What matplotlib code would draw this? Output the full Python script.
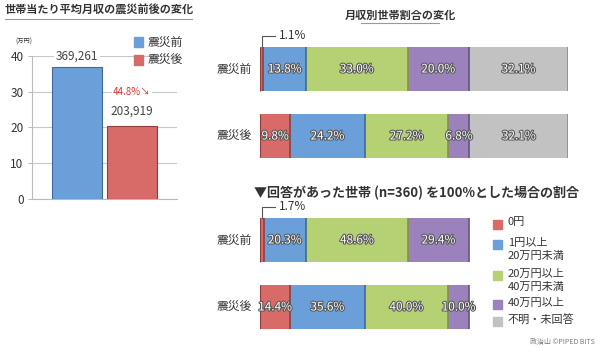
import matplotlib.pyplot as plt
import matplotlib.patheffects as pe
import numpy as np

plt.rcParams['font.family'] = ['Noto Sans CJK JP', 'DejaVu Sans']

# left chart: average monthly income per household (10k yen)
periods = ["震災前", "震災後"]
income = [36.9261, 20.3919]
income_labels = ["369,261", "203,919"]
drop_label = "44.8%↘"

# income brackets
brackets = ["0円", "1円以上\n20万円未満", "20万円以上\n40万円未満", "40万円以上", "不明・未回答"]
share_all = [[1.1, 13.8, 33.0, 20.0, 32.1],
             [9.8, 24.2, 27.2, 6.8, 32.1]]
share_answered = [[1.7, 20.3, 48.6, 29.4],
                  [14.4, 35.6, 40.0, 10.0]]

colors = ["#d86a68", "#6b9fd9", "#b6d074", "#9c82bd", "#c2c2c2"]
edges = ["#8e3f3d", "#3f6a99", "#7d9448", "#665283", "#8a8a8a"]
txt = "#333333"

W, H = 600, 351
fig = plt.figure(figsize=(6, 3.51), dpi=100)


def px_axes(x0, y0, x1, y1):
    return fig.add_axes([x0 / W, 1 - y1 / H, (x1 - x0) / W, (y1 - y0) / H])


def ftext(x, y, s, **kw):
    fig.text(x / W, 1 - y / H, s, **kw)


def fbox(x, y, c):
    fig.patches.append(plt.Rectangle((x / W, 1 - (y + 4.5) / H), 9 / W, 9 / H,
                                     transform=fig.transFigure, color=c))


# ---------------- left: bar chart ----------------
ax = px_axes(32, 56, 177, 199)
ax.bar([0, 1], income, width=0.91, color=[colors[1], colors[0]],
       edgecolor=[edges[1], edges[0]], linewidth=0.8, zorder=3)
ax.set_xlim(-0.82, 1.82)
ax.set_ylim(0, 40)
ax.set_yticks([0, 10, 20, 30, 40])
ax.yaxis.grid(True, color="#c8c8c8", linewidth=0.8, zorder=0)
ax.set_xticks([])
for s in ["top", "right"]:
    ax.spines[s].set_visible(False)
ax.spines["left"].set_color("#bbbbbb")
ax.spines["bottom"].set_color("#bbbbbb")
ax.tick_params(axis="y", length=3, color="#bbbbbb", labelsize=8.5, labelcolor=txt, pad=3)
ax.text(0, 40, income_labels[0], ha="center", va="center", fontsize=8.5, color="#444",
        bbox=dict(facecolor="white", edgecolor="none", pad=1.5), zorder=4)
ax.text(1, 24.6, income_labels[1], ha="center", va="center", fontsize=8.5, color="#444", zorder=4)
ax.text(1.0, 30, drop_label, ha="center", va="center", fontsize=7, color="#e03030",
        bbox=dict(facecolor="white", edgecolor="none", pad=1), zorder=4)
ax.text(-0.82, 44, "(万円)", ha="right", va="center", fontsize=4.5, color=txt, clip_on=False)

# left legend
for i, p in enumerate(periods):
    y = 42 + i * 18
    fbox(134, y, colors[1 - i])
    ftext(148, y, p, fontsize=8.5, color=txt, va="center")

ftext(5, 10, "世帯当たり平均月収の震災前後の変化", fontsize=8, color=txt, va="center", weight="bold")
fig.add_artist(plt.Line2D([5 / W, 192 / W], [1 - 19 / H, 1 - 19 / H], color="#999", lw=0.8))


# ---------------- right: stacked bars ----------------
def stacked(ax, data, xmax):
    hbar = 0.657
    for r, row in enumerate(data):
        left = np.concatenate([[0], np.cumsum(row)[:-1]])
        ax.barh(r, row, left=left, height=hbar, color=colors[:len(row)], edgecolor="none")
        ax.vlines(np.cumsum(row), r - hbar / 2, r + hbar / 2,
                  colors=edges[:len(row)], linewidth=1.2)
        ax.vlines([0], r - hbar / 2, r + hbar / 2, colors=edges[0], linewidth=0.8)
        for v, l in zip(row, left):
            if v < 2:
                continue
            ax.text(l + v / 2, r, f"{v:.1f}%", ha="center", va="center", fontsize=8.5,
                    color="white",
                    path_effects=[pe.withStroke(linewidth=1.5, foreground="#555555")])
    ax.set_xlim(0, xmax)
    ax.set_ylim(1 + hbar / 2, -hbar / 2)
    ax.axis("off")
    for r, p in enumerate(periods):
        ax.text(-0.082 * xmax, r, p, ha="center", va="center", fontsize=8.5, color=txt)
    # small slice callout
    v = data[0][0]
    ax.plot([v / 2, v / 2, 5.0 * xmax / 100], [-hbar / 2, -0.5, -0.5], color="#555", lw=0.8,
            clip_on=False)
    ax.text(6.2 * xmax / 100, -0.5, f"{v:.1f}%", ha="left", va="center", fontsize=8.5,
            color=txt, clip_on=False)


ax1 = px_axes(260, 47, 568, 158)
stacked(ax1, share_all, 100)
ftext(400, 15, "月収別世帯割合の変化", fontsize=8, color=txt, ha="center", va="center",
      weight="bold")
fig.add_artist(plt.Line2D([361 / W, 439 / W], [1 - 23 / H, 1 - 23 / H], color="#999", lw=0.8))

answered_frac = sum(share_all[0][:4]) / 100
ax2 = px_axes(260, 218, 568, 329)
stacked(ax2, share_answered, 100 / answered_frac)
ftext(254, 193, "▼回答があった世帯 (n=360) を100%とした場合の割合", fontsize=9.4, color=txt,
      va="center", weight="bold")

# bottom legend
leg_y = [224, 244, 275, 304, 321]
for i, (b, y) in enumerate(zip(brackets, leg_y)):
    fbox(493, y, colors[i])
    ftext(508, y - 6.5, b, fontsize=8, color=txt, va="top", linespacing=1.45)

ftext(595, 342, "政治山 ©PIPED BITS", fontsize=5, color="#777", ha="right", va="center")

fig.savefig("out.png", dpi=100)
